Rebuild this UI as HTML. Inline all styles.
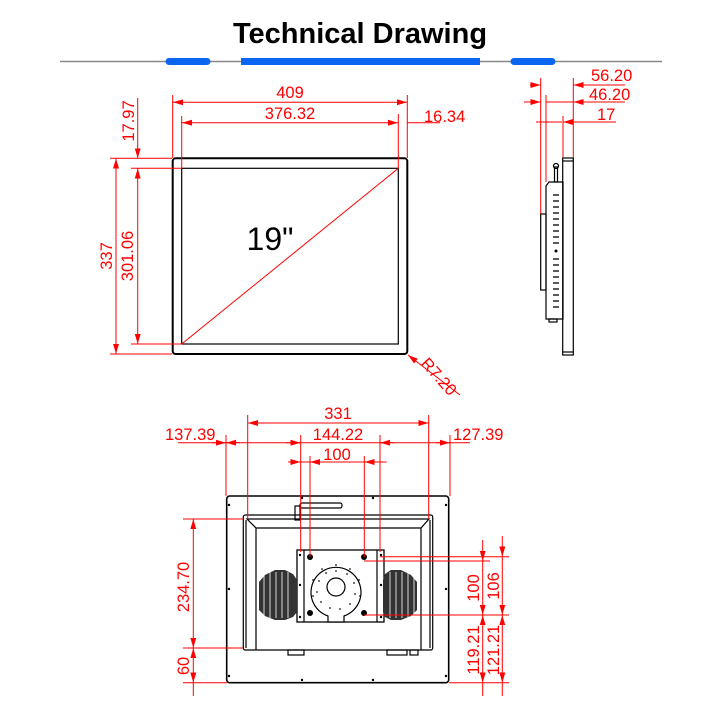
<!DOCTYPE html>
<html><head><meta charset="utf-8"><style>
html,body{margin:0;padding:0;background:#fff;width:720px;height:720px;overflow:hidden}
svg{display:block}
text{font-family:"Liberation Sans",sans-serif}
</style></head><body>
<svg width="720" height="720" viewBox="0 0 720 720" xmlns="http://www.w3.org/2000/svg">
<defs>
<marker id="a" viewBox="0 0 10 6" refX="10" refY="3" markerWidth="10" markerHeight="6" orient="auto-start-reverse" markerUnits="userSpaceOnUse"><path d="M0,0 L10,3 L0,6 z" fill="#f00"/></marker>
</defs>
<text x="360" y="43" font-size="29" font-weight="bold" text-anchor="middle" fill="#000">Technical Drawing</text>
<line x1="60" y1="61.5" x2="662" y2="61.5" stroke="#888" stroke-width="1.5"/>
<g stroke="#0a66f0" stroke-width="7" stroke-linecap="round">
<line x1="169" y1="61.5" x2="207" y2="61.5"/>
<line x1="241" y1="61.5" x2="480" y2="61.5" stroke-linecap="butt"/>
<line x1="514" y1="61.5" x2="552" y2="61.5"/>
</g>

<!-- front view -->
<rect x="172.7" y="158.3" width="234.6" height="195.7" rx="3" fill="none" stroke="#000" stroke-width="2"/>
<rect x="181.7" y="168.3" width="216.6" height="175.7" fill="none" stroke="#000" stroke-width="1.2"/>
<text x="270" y="250" font-size="32" text-anchor="middle" fill="#000">19"</text>
<g stroke="#f00" stroke-width="1" fill="none">
<line x1="181.7" y1="344" x2="398.3" y2="168.3"/>
<line x1="172.7" y1="95" x2="172.7" y2="158"/>
<line x1="407.3" y1="95" x2="407.3" y2="158"/>
<line x1="181.7" y1="116" x2="181.7" y2="168"/>
<line x1="398.3" y1="114" x2="398.3" y2="168"/>
<line x1="173" y1="102.3" x2="407" y2="102.3" marker-start="url(#a)" marker-end="url(#a)"/>
<line x1="182" y1="122.7" x2="398" y2="122.7" marker-start="url(#a)" marker-end="url(#a)"/>
<line x1="407.3" y1="122.7" x2="440" y2="122.7"/>
<line x1="110" y1="158.3" x2="172" y2="158.3"/>
<line x1="110" y1="354" x2="172" y2="354"/>
<line x1="131" y1="168.3" x2="182" y2="168.3"/>
<line x1="131" y1="344" x2="182" y2="344"/>
<line x1="116" y1="158.5" x2="116" y2="353.8" marker-start="url(#a)" marker-end="url(#a)"/>
<line x1="137.7" y1="168.5" x2="137.7" y2="343.8" marker-start="url(#a)" marker-end="url(#a)"/>
<line x1="137.7" y1="98" x2="137.7" y2="158.3" marker-end="url(#a)"/>
<line x1="460" y1="395" x2="408" y2="355" marker-end="url(#a)"/>
</g>
<g fill="#f00" font-size="16.5">
<text x="290" y="98" text-anchor="middle">409</text>
<text x="290" y="119" text-anchor="middle">376.32</text>
<text x="424" y="122">16.34</text>
<text transform="translate(112,256) rotate(-90)" text-anchor="middle">337</text>
<text transform="translate(133,256) rotate(-90)" text-anchor="middle">301.06</text>
<text transform="translate(134,121) rotate(-90)" text-anchor="middle">17.97</text>
<text transform="translate(420,364) rotate(48)">R7.20</text>
</g>

<!-- side view -->
<g stroke="#000" fill="none" stroke-width="1.2">
<rect x="562.7" y="158" width="10.6" height="197"/>
<line x1="562.7" y1="161" x2="573.3" y2="161"/><line x1="562.7" y1="352" x2="573.3" y2="352"/>
<path d="M546,186 L549,182 L563,182 L563,319 L546,319 z"/>
<rect x="540.7" y="214" width="5.3" height="76"/>
<rect x="554.5" y="167" width="3" height="15"/>
<circle cx="556" cy="166" r="2.5"/>
<rect x="549" y="319" width="8" height="3"/>
</g>
<g stroke="#000" stroke-width="1.3">
<line x1="553" y1="195" x2="559" y2="195"/><line x1="553" y1="201" x2="559" y2="201"/><line x1="553" y1="207" x2="559" y2="207"/><line x1="553" y1="213" x2="559" y2="213"/><line x1="553" y1="219" x2="559" y2="219"/><line x1="553" y1="225" x2="559" y2="225"/><line x1="553" y1="231" x2="559" y2="231"/><line x1="553" y1="237" x2="559" y2="237"/><line x1="553" y1="243" x2="559" y2="243"/>
<line x1="553" y1="259" x2="559" y2="259"/><line x1="553" y1="265" x2="559" y2="265"/><line x1="553" y1="271" x2="559" y2="271"/><line x1="553" y1="277" x2="559" y2="277"/><line x1="553" y1="283" x2="559" y2="283"/><line x1="553" y1="289" x2="559" y2="289"/><line x1="553" y1="295" x2="559" y2="295"/><line x1="553" y1="301" x2="559" y2="301"/><line x1="553" y1="307" x2="559" y2="307"/>
</g>
<circle cx="556" cy="251" r="1.5" fill="#000"/>
<g stroke="#f00" stroke-width="1" fill="none">
<line x1="540.7" y1="78" x2="540.7" y2="214"/>
<line x1="573.3" y1="78" x2="573.3" y2="158"/>
<line x1="546" y1="95" x2="546" y2="182"/>
<line x1="563" y1="116" x2="563" y2="158"/>
<line x1="530" y1="85" x2="540.5" y2="85" marker-end="url(#a)"/><line x1="583" y1="85" x2="573.5" y2="85" marker-end="url(#a)"/><line x1="573" y1="85" x2="625" y2="85"/>
<line x1="524" y1="102" x2="540.5" y2="102" marker-end="url(#a)"/><line x1="583" y1="102" x2="573.5" y2="102" marker-end="url(#a)"/><line x1="546" y1="102" x2="625" y2="102"/>
<line x1="536" y1="122" x2="546" y2="122"/>
<line x1="580" y1="122" x2="563.2" y2="122" marker-end="url(#a)"/><line x1="546" y1="122" x2="562" y2="122"/><line x1="573" y1="122" x2="616" y2="122"/>
</g>
<g fill="#f00" font-size="16.5">
<text x="591" y="81">56.20</text>
<text x="589" y="100">46.20</text>
<text x="597" y="120">17</text>
</g>

<!-- back view -->
<g stroke="#000" fill="none" stroke-width="1.2">
<rect x="226.7" y="496" width="222" height="186.7" rx="3" stroke-width="1.6"/>
<rect x="243.3" y="515" width="189.4" height="135" rx="2"/>
<path d="M247,519 L429,519 L421,528 L256,528 z"/>
<line x1="256" y1="528" x2="256" y2="650"/><line x1="421" y1="528" x2="421" y2="650"/>
<line x1="246" y1="520" x2="246" y2="648"/><line x1="430" y1="520" x2="430" y2="648"/>
<rect x="297" y="550" width="87" height="72" stroke-width="1.3"/>
<line x1="304" y1="550" x2="304" y2="622"/><line x1="377" y1="550" x2="377" y2="622"/>
<path d="M328,616 A25,25 0 1 1 344,616 L344,622 L328,622 z" fill="#fff"/>
<circle cx="336" cy="587" r="9"/>
<rect x="295" y="506" width="5" height="14"/>
<rect x="300" y="503" width="42" height="5" rx="2"/>
<rect x="288" y="650" width="16" height="5"/><rect x="387" y="650" width="20" height="5"/><rect x="410" y="650" width="8" height="5"/>
</g>
<g fill="#000">
<circle cx="310" cy="557" r="3"/><circle cx="364" cy="557" r="3"/><circle cx="310" cy="613" r="3"/><circle cx="364" cy="613" r="3"/>
<circle cx="300" cy="555" r="1.2"/><circle cx="381" cy="555" r="1.2"/><circle cx="300" cy="617" r="1.2"/><circle cx="381" cy="617" r="1.2"/>
<circle cx="300" cy="585" r="1.2"/><circle cx="381" cy="585" r="1.2"/>
<circle cx="229" cy="505" r="1.2"/><circle cx="446" cy="505" r="1.2"/><circle cx="229" cy="589" r="1.2"/><circle cx="446" cy="589" r="1.2"/><circle cx="229" cy="676" r="1.2"/><circle cx="446" cy="676" r="1.2"/>
<circle cx="302" cy="498" r="1.2"/><circle cx="373" cy="498" r="1.2"/><circle cx="302" cy="680" r="1.2"/><circle cx="373" cy="680" r="1.2"/>
</g>
<g fill="#333">
<path d="M259,582 L265,575 L275,570 L285,570 L293,574 L297,580 L297,612 L293,617 L285,620 L275,620 L265,616 L259,610 z"/>
<path d="M417,582 L411,575 L401,570 L391,570 L385,574 L383,580 L383,612 L385,617 L391,620 L401,620 L411,616 L417,610 z"/>
</g>
<g stroke="#fff" stroke-width="0.8">
<line x1="264" y1="572" x2="264" y2="618"/><line x1="270" y1="572" x2="270" y2="618"/><line x1="276" y1="572" x2="276" y2="618"/><line x1="282" y1="572" x2="282" y2="618"/><line x1="288" y1="572" x2="288" y2="618"/>
<line x1="390" y1="572" x2="390" y2="618"/><line x1="396" y1="572" x2="396" y2="618"/><line x1="402" y1="572" x2="402" y2="618"/><line x1="408" y1="572" x2="408" y2="618"/><line x1="414" y1="572" x2="414" y2="618"/>
</g>
<g fill="#000" opacity="0.7">
<circle cx="336" cy="571" r="1"/><circle cx="347" cy="574" r="1"/><circle cx="354" cy="583" r="1"/><circle cx="355" cy="594" r="1"/><circle cx="350" cy="604" r="1"/><circle cx="340" cy="609" r="1"/><circle cx="330" cy="608" r="1"/><circle cx="321" cy="602" r="1"/><circle cx="317" cy="592" r="1"/><circle cx="319" cy="581" r="1"/><circle cx="326" cy="573" r="1"/>
<circle cx="336" cy="565" r="1"/><circle cx="350" cy="569" r="1"/><circle cx="359" cy="580" r="1"/><circle cx="360" cy="596" r="1"/><circle cx="313" cy="596" r="1"/><circle cx="313" cy="580" r="1"/><circle cx="322" cy="569" r="1"/>
</g>
<g stroke="#f00" stroke-width="1" fill="none">
<line x1="247.7" y1="415" x2="247.7" y2="519"/>
<line x1="428.7" y1="415" x2="428.7" y2="519"/>
<line x1="226" y1="435" x2="226" y2="496"/>
<line x1="450" y1="435" x2="450" y2="496"/>
<line x1="300.7" y1="435" x2="300.7" y2="552"/>
<line x1="380" y1="435" x2="380" y2="552"/>
<line x1="310" y1="456" x2="310" y2="557"/>
<line x1="364.3" y1="456" x2="364.3" y2="557"/>
<line x1="248" y1="423" x2="428.5" y2="423" marker-start="url(#a)" marker-end="url(#a)"/>
<line x1="178" y1="442.7" x2="470" y2="442.7"/>
<line x1="212" y1="442.7" x2="225.8" y2="442.7" marker-end="url(#a)"/>
<line x1="240" y1="442.7" x2="226.2" y2="442.7" marker-end="url(#a)"/>
<line x1="286" y1="442.7" x2="300.5" y2="442.7" marker-end="url(#a)"/>
<line x1="394" y1="442.7" x2="380.2" y2="442.7" marker-end="url(#a)"/>
<line x1="436" y1="442.7" x2="449.8" y2="442.7" marker-end="url(#a)"/>
<line x1="288" y1="462" x2="386.7" y2="462"/>
<line x1="288" y1="462" x2="300.5" y2="462" marker-end="url(#a)"/>
<line x1="310" y1="462" x2="323" y2="462" marker-start="url(#a)"/>
<line x1="380" y1="462" x2="364.5" y2="462" marker-end="url(#a)"/>
<line x1="183" y1="519" x2="243" y2="519"/>
<line x1="183" y1="648" x2="243" y2="648"/>
<line x1="183" y1="682.7" x2="227" y2="682.7"/>
<line x1="193.3" y1="519.2" x2="193.3" y2="647.8" marker-start="url(#a)" marker-end="url(#a)"/>
<line x1="193.3" y1="648.2" x2="193.3" y2="682.5" marker-start="url(#a)" marker-end="url(#a)"/>
<line x1="193.3" y1="682.7" x2="193.3" y2="696"/>
<line x1="380" y1="556.7" x2="509" y2="556.7"/>
<line x1="364" y1="561" x2="490" y2="561"/>
<line x1="364" y1="615" x2="509" y2="615"/>
<line x1="449" y1="682.7" x2="509" y2="682.7"/>
<line x1="482.7" y1="540" x2="482.7" y2="560.8" marker-end="url(#a)"/>
<line x1="482.7" y1="561.2" x2="482.7" y2="614.8" marker-end="url(#a)"/>
<line x1="482.7" y1="615.2" x2="482.7" y2="682.5" marker-start="url(#a)" marker-end="url(#a)"/>
<line x1="482.7" y1="682.7" x2="482.7" y2="696"/>
<line x1="502.3" y1="536" x2="502.3" y2="556.5" marker-end="url(#a)"/>
<line x1="502.3" y1="556.9" x2="502.3" y2="614.8" marker-end="url(#a)"/>
<line x1="502.3" y1="615.2" x2="502.3" y2="682.5" marker-start="url(#a)" marker-end="url(#a)"/>
<line x1="502.3" y1="682.7" x2="502.3" y2="696"/>
</g>
<g fill="#f00" font-size="16.5">
<text x="338" y="419" text-anchor="middle">331</text>
<text x="338" y="440" text-anchor="middle">144.22</text>
<text x="165" y="440">137.39</text>
<text x="453" y="440">127.39</text>
<text x="337" y="460" text-anchor="middle">100</text>
<text transform="translate(189,587) rotate(-90)" text-anchor="middle">234.70</text>
<text transform="translate(189,666) rotate(-90)" text-anchor="middle">60</text>
<text transform="translate(479,588) rotate(-90)" text-anchor="middle">100</text>
<text transform="translate(499,586) rotate(-90)" text-anchor="middle">106</text>
<text transform="translate(479,650) rotate(-90)" text-anchor="middle">119.21</text>
<text transform="translate(499,650) rotate(-90)" text-anchor="middle">121.21</text>
</g>
</svg>
</body></html>
